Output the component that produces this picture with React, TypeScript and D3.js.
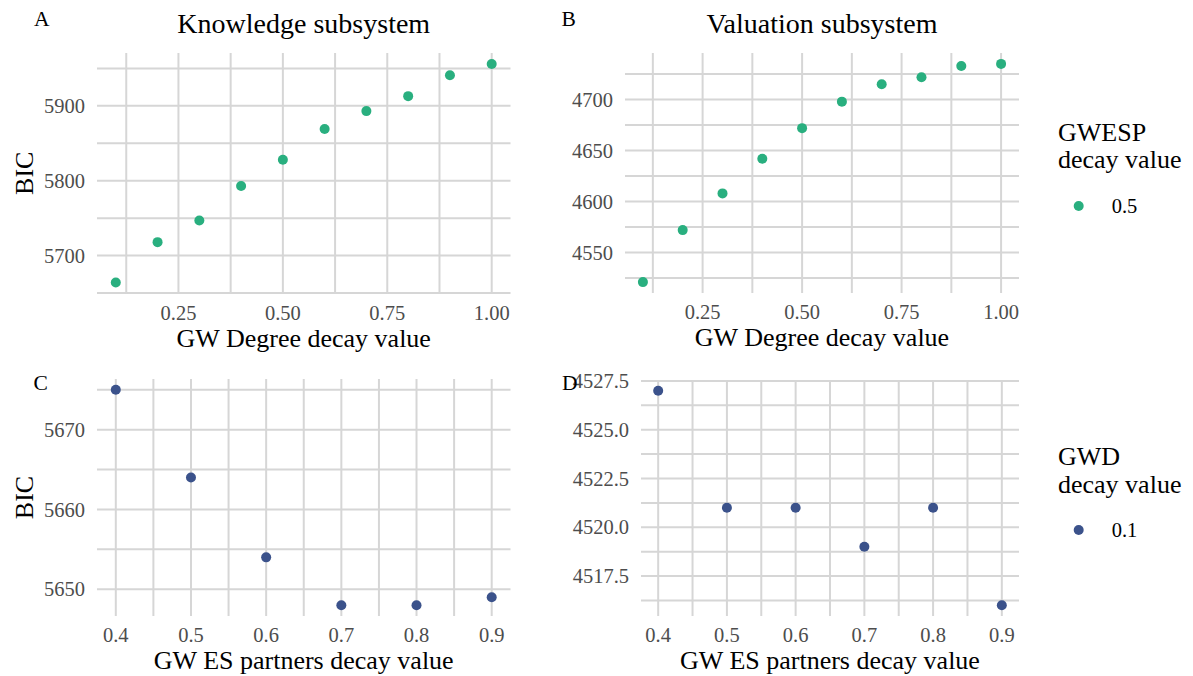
import React from "react";
import * as d3 from "d3";

// ---- data ----
const gwDegreeDecay = [0.1, 0.2, 0.3, 0.4, 0.5, 0.6, 0.7, 0.8, 0.9, 1.0];
const knowledgeBicByGwd = [5664, 5718, 5747, 5793, 5828, 5869, 5893, 5913, 5941, 5956];
const valuationBicByGwd = [4521, 4572, 4608, 4642, 4672, 4698, 4715, 4722, 4733, 4735];

const gwEsPartnersDecay = [0.4, 0.5, 0.6, 0.7, 0.8, 0.9];
const knowledgeBicByGwesp = [5675, 5664, 5654, 5648, 5648, 5649];
const valuationBicByGwesp = [4527, 4521, 4521, 4519, 4521, 4516];

const xTicksTop = [0.25, 0.5, 0.75, 1.0];
const xTicksBottom = [0.4, 0.5, 0.6, 0.7, 0.8, 0.9];
const yTicksA = [5700, 5800, 5900];
const yTicksB = [4550, 4600, 4650, 4700];
const yTicksC = [5650, 5660, 5670];
const yTicksD = [4517.5, 4520, 4522.5, 4525, 4527.5];

const GREEN = "#29AF7F";
const BLUE = "#3B528B";
const FONT = "Liberation Serif, Times New Roman, serif";
const GRID = "#d6d6d6";

function expand(vals: number[], mult = 0.05): [number, number] {
  const [lo, hi] = d3.extent(vals) as [number, number];
  const r = hi - lo;
  return [lo - r * mult, hi + r * mult];
}

function minorBreaks(major: number[], domain: [number, number]) {
  const step = major[1] - major[0];
  const out: number[] = [];
  const ext = [major[0] - step, ...major, major[major.length - 1] + step];
  for (let i = 0; i < ext.length - 1; i++) {
    const m = (ext[i] + ext[i + 1]) / 2;
    if (m >= domain[0] && m <= domain[1]) out.push(m);
  }
  return out;
}

type PanelProps = {
  left: number; right: number; top: number; bottom: number;
  xs: number[]; ys: number[]; xTicks: number[]; yTicks: number[];
  xFmt: (v: number) => string; yFmt: (v: number) => string;
  color: string; title?: string; xTitle: string; yTitle?: string;
  tag: string; tagX: number; tagY: number;
};

function Panel(p: PanelProps) {
  const xDom = expand(p.xs);
  const yDom = expand(p.ys);
  const x = d3.scaleLinear().domain(xDom).range([p.left, p.right]);
  const y = d3.scaleLinear().domain(yDom).range([p.bottom, p.top]);
  const xMinor = minorBreaks(p.xTicks, xDom);
  const yMinor = minorBreaks(p.yTicks, yDom);
  const cx = (p.left + p.right) / 2;
  const cy = (p.top + p.bottom) / 2;
  return (
    <g>
      {[...yMinor, ...p.yTicks].map((v, i) => (
        <line key={"h" + i} x1={p.left} x2={p.right} y1={y(v)} y2={y(v)} stroke={GRID} strokeWidth={2} />
      ))}
      {[...xMinor, ...p.xTicks].map((v, i) => (
        <line key={"v" + i} y1={p.top} y2={p.bottom} x1={x(v)} x2={x(v)} stroke={GRID} strokeWidth={2} />
      ))}
      {p.xs.map((xv, i) => (
        <circle key={"p" + i} cx={x(xv)} cy={y(p.ys[i])} r={5} fill={p.color} />
      ))}
      {p.yTicks.map((v, i) => (
        <text key={"yt" + i} x={p.left - 12} y={y(v)} dy="0.35em" textAnchor="end" fontSize={20.5} fill="#4d4d4d" fontFamily={FONT}>
          {p.yFmt(v)}
        </text>
      ))}
      {p.xTicks.map((v, i) => (
        <text key={"xt" + i} x={x(v)} y={p.bottom + 26} textAnchor="middle" fontSize={20.5} fill="#4d4d4d" fontFamily={FONT}>
          {p.xFmt(v)}
        </text>
      ))}
      <text x={cx} y={p.bottom + 53} textAnchor="middle" fontSize={26} fill="#000" fontFamily={FONT}>{p.xTitle}</text>
      {p.yTitle && (
        <text transform={`translate(32.5,${cy}) rotate(-90)`} textAnchor="middle" fontSize={26} fill="#000" fontFamily={FONT}>{p.yTitle}</text>
      )}
      {p.title && (
        <text x={cx} y={33} textAnchor="middle" fontSize={28} fill="#000" fontFamily={FONT}>{p.title}</text>
      )}
      <text x={p.tagX} y={p.tagY} fontSize={21.5} fill="#000" fontFamily={FONT}>{p.tag}</text>
    </g>
  );
}

export default function App() {
  const f2 = d3.format(".2f");
  const f1 = d3.format(".1f");
  const f0 = d3.format("d");
  return (
    <div style={{ position: "absolute", left: 0, top: 0 }}>
      <svg width={1193} height={676} fontFamily={FONT} style={{ display: "block", background: "#fff" }}>
        <Panel left={97} right={510.5} top={53} bottom={293.5} xs={gwDegreeDecay} ys={knowledgeBicByGwd}
          xTicks={xTicksTop} yTicks={yTicksA} xFmt={f2} yFmt={f0} color={GREEN}
          title="Knowledge subsystem" xTitle="GW Degree decay value" yTitle="BIC" tag="A" tagX={34} tagY={26} />
        <Panel left={625} right={1019} top={53} bottom={293} xs={gwDegreeDecay} ys={valuationBicByGwd}
          xTicks={xTicksTop} yTicks={yTicksB} xFmt={f2} yFmt={f0} color={GREEN}
          title="Valuation subsystem" xTitle="GW Degree decay value" tag="B" tagX={561.5} tagY={26} />
        <Panel left={97} right={510.5} top={379} bottom={616} xs={gwEsPartnersDecay} ys={knowledgeBicByGwesp}
          xTicks={xTicksBottom} yTicks={yTicksC} xFmt={f1} yFmt={f0} color={BLUE}
          xTitle="GW ES partners decay value" yTitle="BIC" tag="C" tagX={33.5} tagY={389.5} />
        <Panel left={641} right={1019} top={380} bottom={616} xs={gwEsPartnersDecay} ys={valuationBicByGwesp}
          xTicks={xTicksBottom} yTicks={yTicksD} xFmt={f1} yFmt={f1} color={BLUE}
          xTitle="GW ES partners decay value" tag="D" tagX={562} tagY={390} />

        {/* legends */}
        <g fontFamily={FONT}>
          <text x={1058} y={140.7} fontSize={26}>GWESP</text>
          <text x={1058} y={168.3} fontSize={26}>decay value</text>
          <circle cx={1078.7} cy={206} r={5} fill={GREEN} />
          <text x={1111.7} y={206} dy="0.35em" fontSize={20.5} fill="#000">0.5</text>

          <text x={1058} y={465} fontSize={26}>GWD</text>
          <text x={1058} y={493.3} fontSize={26}>decay value</text>
          <circle cx={1078.7} cy={530} r={5} fill={BLUE} />
          <text x={1111.7} y={530} dy="0.35em" fontSize={20.5} fill="#000">0.1</text>
        </g>
      </svg>
    </div>
  );
}
